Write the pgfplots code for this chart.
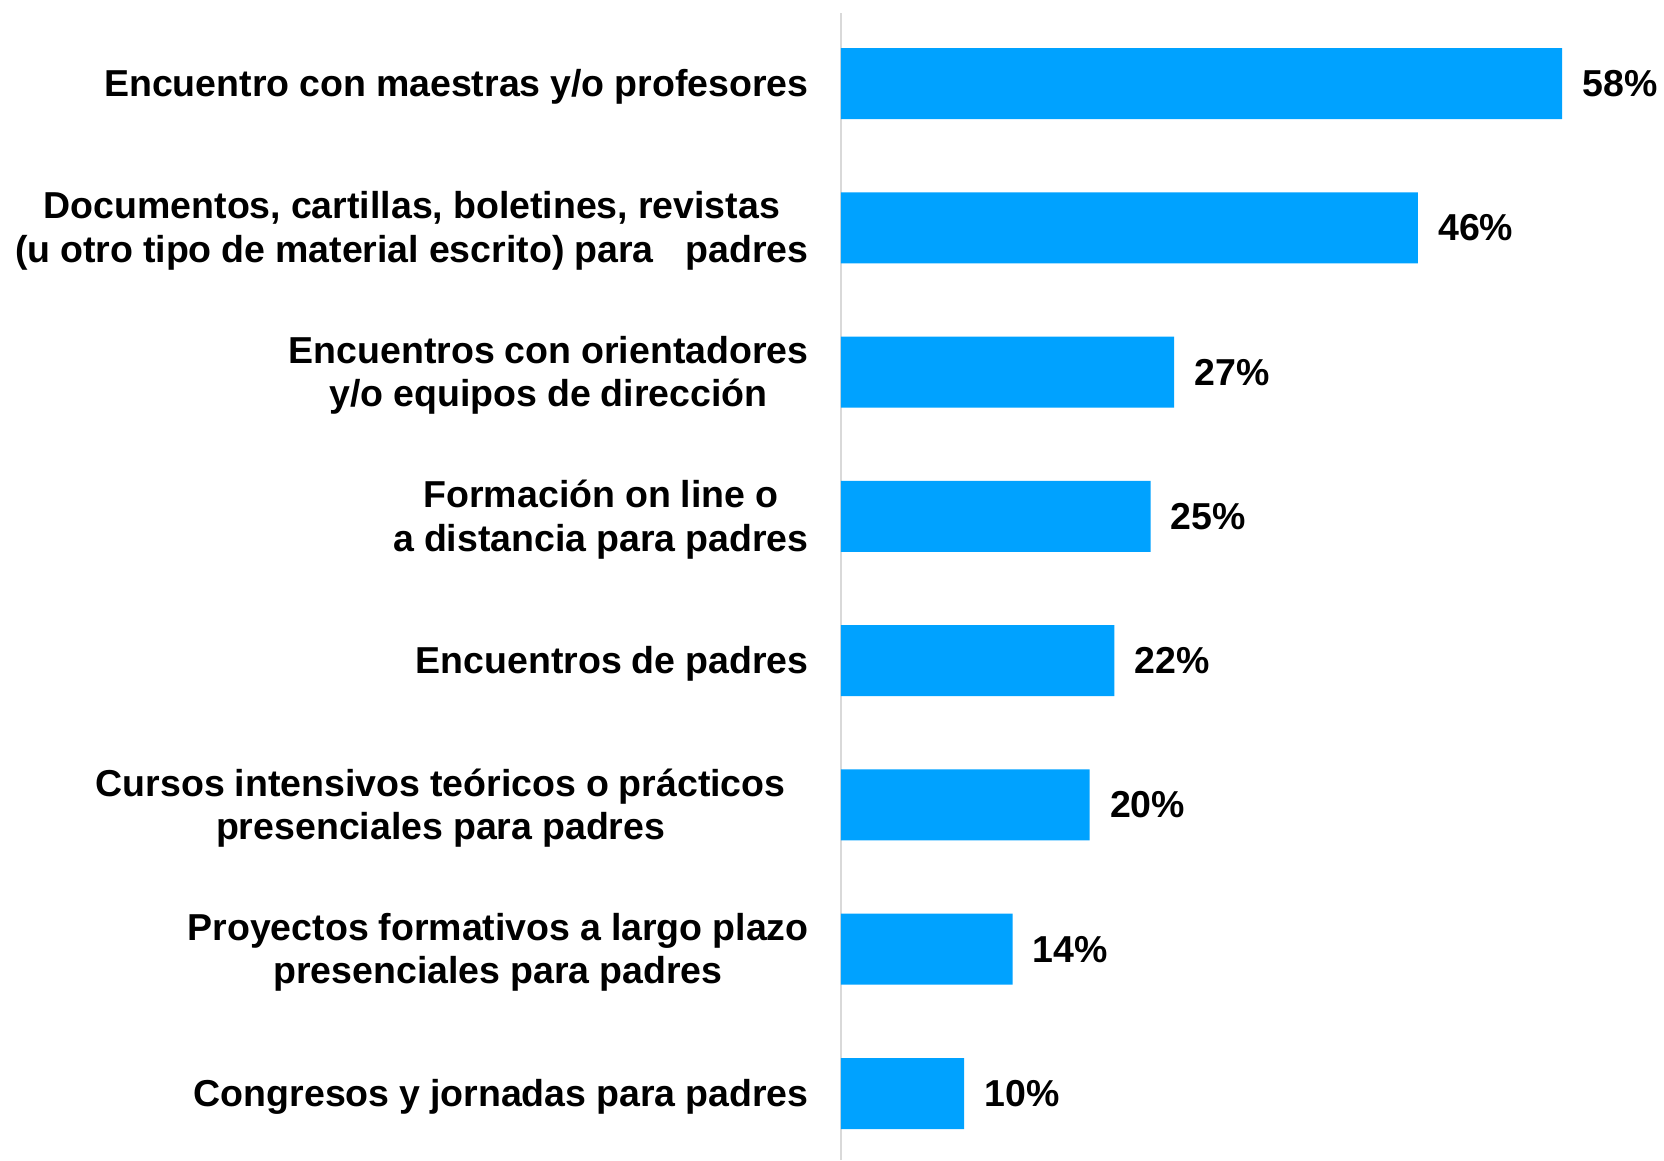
\documentclass[border=0pt]{standalone}
\usepackage{fontspec}
\setmainfont{Liberation Sans}[WordSpace=0.95]
\usepackage{pgfplots}
\pgfplotsset{compat=1.18}
\definecolor{barblue}{RGB}{0,162,255}
\definecolor{axgray}{RGB}{217,217,217}

\begin{document}
\begin{tikzpicture}
\begin{axis}[
  xbar,
  scale only axis,
  width=360.5pt,
  height=573.5pt,
  xmin=0, xmax=58,
  ymin=0.511, ymax=8.461,
  y dir=reverse,
  bar width=0.492,
  hide x axis,
  axis y line*=left,
  y axis line style={-, draw=axgray, line width=0.8pt},
  major tick length=0pt,
  ytick={1,...,8},
  yticklabels={
    {Encuentro con maestras y/o profesores},
    {Documentos, cartillas, boletines, revistas\\(u otro tipo de material escrito) para\hspace{11pt} padres},
    {Encuentros con orientadores\\y/o equipos de dirección},
    {Formación on line o\\a distancia para padres},
    {Encuentros de padres},
    {Cursos intensivos teóricos o prácticos\hspace*{11.5pt}\\presenciales para padres\hspace*{11.5pt}},
    {Proyectos formativos a largo plazo\\presenciales para padres},
    {Congresos y jornadas para padres},
  },
  yticklabel style={align=center, inner sep=0pt, xshift=-16pt, yshift=-1.5pt,
    font=\fontsize{18.75}{21.75}\selectfont\bfseries},
  point meta=x,
  nodes near coords={\pgfmathprintnumber[fixed,precision=0,assume math mode=true]{\pgfplotspointmeta}\%},
  nodes near coords style={anchor=west, inner sep=0pt, xshift=10pt,
    font=\fontsize{18.75}{21.75}\selectfont\bfseries},
  clip=false,
]
\addplot[draw=none, fill=barblue] coordinates {
  (58,1) (46.4,2) (26.8,3) (24.9,4) (22,5) (20,6) (13.8,7) (9.9,8)
};
\end{axis}
\pgfresetboundingbox
\path ([xshift=-420.5pt]current axis.south west) rectangle ([xshift=411.5pt,yshift=6.5pt]current axis.north west);
\end{tikzpicture}
\end{document}
